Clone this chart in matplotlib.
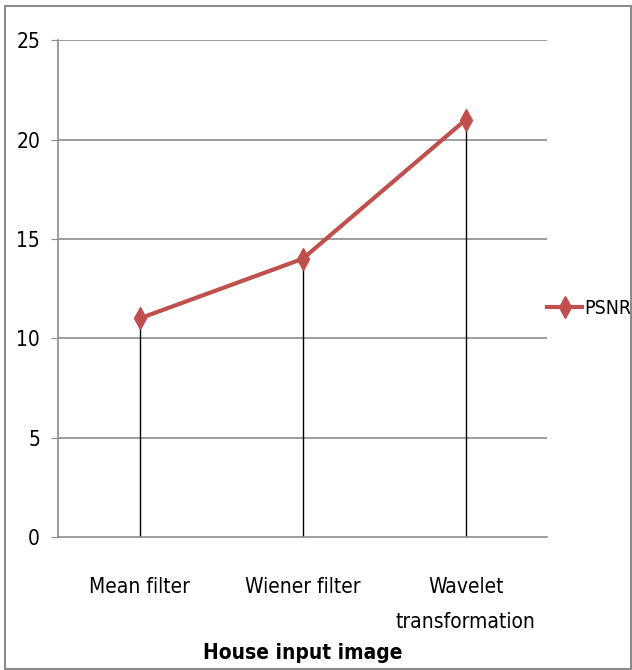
import matplotlib.pyplot as plt
from matplotlib.patches import Rectangle

categories = ["Mean filter", "Wiener filter", "Wavelet\ntransformation"]
psnr = [11, 14, 21]
yticks = [0, 5, 10, 15, 20, 25]

plt.rcParams['font.family'] = ['DejaVu Sans']
plt.rcParams['font.stretch'] = 'condensed'

fig = plt.figure(figsize=(6.32, 6.7), dpi=100)
ax = fig.add_axes([0.092, 0.1985, 0.774, 0.7415])

x = list(range(len(categories)))
ax.set_xlim(-0.5, len(categories) - 0.5)
ax.set_ylim(0, 25)

for yv in yticks[1:]:
    ax.axhline(yv, color='#8c8c8c', lw=1.2, zorder=0)

# drop lines
ax.vlines(x, 0, psnr, color='black', lw=1, zorder=1)

ax.plot(x, psnr, color='#C0504D', lw=3, marker='d', markersize=11,
        label='PSNR', zorder=3)

ax.set_yticks(yticks)
ax.set_yticklabels([str(v) for v in yticks], fontsize=15)
ax.set_xticks(x)
ax.set_xticklabels(categories, fontsize=15, va='top', linespacing=1.9)
ax.tick_params(axis='x', length=0, pad=29)
ax.tick_params(axis='y', length=5, color='#8c8c8c', pad=8)

for s in ['top', 'right']:
    ax.spines[s].set_visible(False)
ax.spines['left'].set_color('#8c8c8c')
ax.spines['bottom'].set_color('#8c8c8c')
ax.spines['left'].set_linewidth(1.2)
ax.spines['bottom'].set_linewidth(1.2)

ax.set_xlabel("House input image", fontsize=15, fontweight='bold', labelpad=8)

ax.legend(loc='center left', bbox_to_anchor=(1.0, 0.46), frameon=False,
          fontsize=14, handlelength=1.8, handletextpad=0.1,
          borderaxespad=0, borderpad=0)

fig.patches.append(Rectangle((0.008, 0.002), 0.99, 0.989, transform=fig.transFigure,
                             fill=False, edgecolor='#8c8c8c', lw=1.5))

fig.savefig('out.png', dpi=100)
